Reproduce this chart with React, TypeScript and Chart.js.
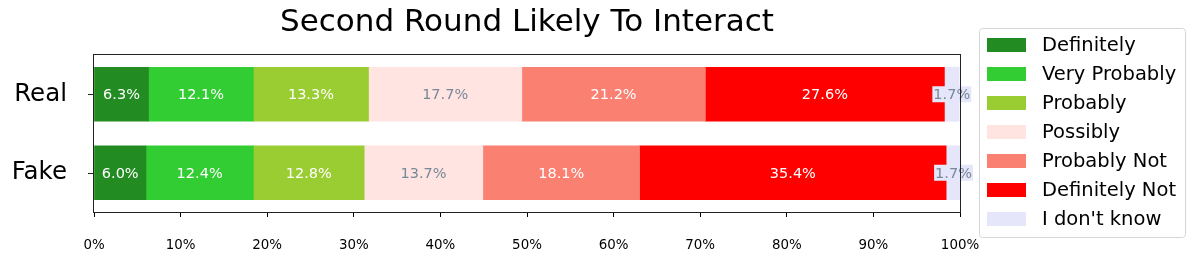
import { useEffect, useRef } from 'react';
import { Chart, registerables } from 'chart.js';

Chart.register(...registerables);

const TITLE = 'Second Round Likely To Interact';
const categories = ['Real', 'Fake'];
const seriesNames = ['Definitely', 'Very Probably', 'Probably', 'Possibly', 'Probably Not', 'Definitely Not', "I don't know"];
const definitely = [6.3, 6.0];
const veryProbably = [12.1, 12.4];
const probably = [13.3, 12.8];
const possibly = [17.7, 13.7];
const probablyNot = [21.2, 18.1];
const definitelyNot = [27.6, 35.4];
const dontKnow = [1.7, 1.7];
const seriesValues = [definitely, veryProbably, probably, possibly, probablyNot, definitelyNot, dontKnow];
const colors = ['#228B22', '#32CD32', '#9ACD32', '#FFE4E1', '#FA8072', '#FF0000', '#E6E6FA'];
const labelColors = ['#ffffff', '#ffffff', '#ffffff', '#778899', '#ffffff', '#ffffff', '#778899'];
const xTicks = [0, 10, 20, 30, 40, 50, 60, 70, 80, 90, 100];

const FONT = 'DejaVu Sans';

const customPlugin = {
  id: 'custom',
  afterDatasetsDraw(chart: any) {
    const ctx = chart.ctx;
    const area = chart.chartArea;
    ctx.save();
    // value labels
    ctx.font = `14.5px "${FONT}"`;
    ctx.textAlign = 'center';
    ctx.textBaseline = 'middle';
    chart.data.datasets.forEach((ds: any, i: number) => {
      const meta = chart.getDatasetMeta(i);
      meta.data.forEach((el: any, j: number) => {
        const v = ds.data[j];
        const cx = (el.x + el.base) / 2;
        const cy = el.y;
        const txt = v.toFixed(1) + '%';
        if (i === seriesValues.length - 1) {
          const w = ctx.measureText(txt).width;
          ctx.fillStyle = colors[i];
          ctx.fillRect(cx - w / 2 - 1, cy - 8, w + 2, 16);
        }
        ctx.fillStyle = labelColors[i];
        ctx.fillText(txt, cx, cy + 1);
      });
    });
    // frame
    ctx.strokeStyle = '#222';
    ctx.lineWidth = 1;
    ctx.strokeRect(Math.round(area.left) - 0.5, Math.round(area.top) - 0.5, Math.round(area.right - area.left) + 1, Math.round(area.bottom - area.top) + 1);
    // y tick marks
    const ys = chart.scales.y;
    ctx.beginPath();
    categories.forEach((_, i) => {
      const py = Math.round(ys.getPixelForTick(i)) + 0.5;
      ctx.moveTo(area.left - 6, py);
      ctx.lineTo(area.left, py);
    });
    ctx.stroke();
    // title
    ctx.fillStyle = '#000';
    ctx.font = `31px "${FONT}"`;
    ctx.textAlign = 'center';
    ctx.textBaseline = 'middle';
    ctx.fillText(TITLE, (area.left + area.right) / 2, 23);
    // legend
    const lx = 979, ly = 28, lw = 206, lh = 209;
    ctx.fillStyle = '#fff';
    ctx.strokeStyle = '#d6d6d6';
    ctx.beginPath();
    (ctx as any).roundRect(lx + 0.5, ly + 0.5, lw, lh, 3);
    ctx.fill();
    ctx.stroke();
    ctx.font = `19.5px "${FONT}"`;
    ctx.textAlign = 'left';
    seriesNames.forEach((name, i) => {
      const yc = 45 + i * 29;
      ctx.fillStyle = colors[i];
      ctx.fillRect(987, yc - 7, 39, 14);
      ctx.fillStyle = '#000';
      ctx.fillText(name, 1042, yc + 1);
    });
    ctx.restore();
  },
};

export default function App() {
  const ref = useRef<HTMLCanvasElement>(null);
  useEffect(() => {
    document.body.style.margin = '0';
    const chart = new Chart(ref.current!, {
      type: 'bar',
      data: {
        labels: categories,
        datasets: seriesNames.map((name, i) => ({
          label: name,
          data: seriesValues[i],
          backgroundColor: colors[i],
          borderWidth: 0,
          barThickness: 54,
        })),
      },
      options: {
        indexAxis: 'y',
        responsive: false,
        animation: false,
        devicePixelRatio: 1,
        layout: { padding: { top: 55, right: 236, bottom: 0, left: 0 } },
        plugins: { legend: { display: false }, title: { display: false }, tooltip: { enabled: false } },
        scales: {
          x: {
            type: 'linear',
            stacked: true,
            min: 0,
            max: 100,
            afterBuildTicks: (s: any) => { s.ticks = xTicks.map((v) => ({ value: v })); },
            ticks: {
              callback: (v: any) => v + '%',
              font: { family: FONT, size: 13.4 },
              color: '#000',
              padding: 20,
              maxRotation: 0,
              autoSkip: false,
            },
            grid: { drawOnChartArea: false, drawTicks: true, tickLength: 5, color: '#000' },
            border: { display: false },
            afterFit: (s: any) => { s.height = 50; },
          },
          y: {
            type: 'category',
            stacked: true,
            ticks: { font: { family: FONT, size: 24.5 }, color: '#000', padding: 22 },
            grid: { display: false, drawTicks: true, tickLength: 5, offset: false },
            border: { display: false },
            afterFit: (s: any) => { s.width = 94; },
          },
        },
      },
      plugins: [customPlugin],
    } as any);
    return () => chart.destroy();
  }, []);
  return (
    <div style={{ width: 1196, height: 262 }}>
      <canvas ref={ref} width={1196} height={262} style={{ display: 'block' }} />
    </div>
  );
}
